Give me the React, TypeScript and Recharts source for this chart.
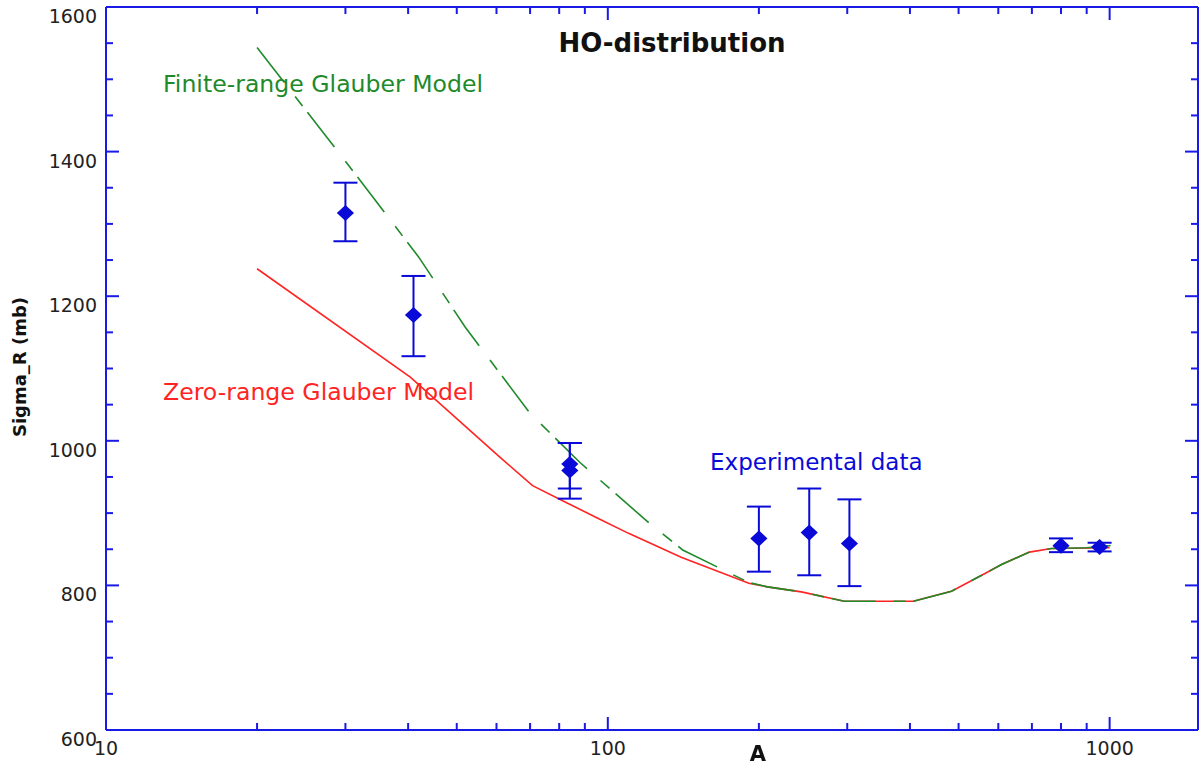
import React from 'react';
import { ComposedChart, Line, Scatter, XAxis, YAxis, ErrorBar } from 'recharts';

// finite-range Glauber model (green dashed)
const FINITE_A = [20, 29, 42, 52, 70, 88, 121, 141, 191, 208, 243, 296, 406, 484, 556, 609, 692, 766, 900, 1000, 1057];
const FINITE_SIGMA = [1544, 1400, 1254, 1157, 1038, 970, 886, 849, 804, 798, 791, 778, 778, 792, 814, 829, 846, 851, 852, 855, 857];

// zero-range Glauber model (red)
const ZERO_A = [20, 40.4, 61, 70.8, 82.4, 95.5, 110, 140, 191, 208, 243, 296, 406, 484, 556, 609, 692, 766, 1000];
const ZERO_SIGMA = [1238, 1088, 977, 938, 915, 893, 872, 839, 803, 798, 791, 778, 778, 792, 814, 829, 846, 851, 852];

// experimental data
const EXP_A = [30, 41, 84, 84, 200, 252, 303, 800, 955];
const EXP_SIGMA = [1315, 1174, 968, 959, 865, 873, 858, 855, 853];
const EXP_ERR_LOW = [39, 57, 34, 39, 46, 59, 59, 9, 6];
const EXP_ERR_HIGH = [42, 54, 29, 38, 44, 61, 61, 10, 6];

const X_TICKS = [10, 20, 30, 40, 50, 60, 70, 80, 90, 100, 200, 300, 400, 500, 600, 700, 800, 900, 1000];
const X_MAJOR = [10, 100, 1000];
const Y_TICKS = [600, 650, 700, 750, 800, 850, 900, 950, 1000, 1050, 1100, 1150, 1200, 1250, 1300, 1350, 1400, 1450, 1500, 1550, 1600];

const finiteData = FINITE_A.map((a, i) => ({ a, sigma: FINITE_SIGMA[i] }));
const zeroData = ZERO_A.map((a, i) => ({ a, sigma: ZERO_SIGMA[i] }));
const expData = EXP_A.map((a, i) => ({ a, sigma: EXP_SIGMA[i], err: [EXP_ERR_LOW[i], EXP_ERR_HIGH[i]] }));

const AXIS = '#1a1ae6';
const GREEN = '#1f8a2a';
const RED = '#ff2424';
const BLUE = '#0a0ad8';
const FONT = '"DejaVu Sans", Verdana, sans-serif';

const isMajorY = (v: number) => v % 200 === 0;

const BottomTick = (props: any) => {
  const { x, y, payload } = props;
  const major = X_MAJOR.includes(payload.value);
  return (
    <g>
      <line x1={x} y1={y} x2={x} y2={y - (major ? 13 : 7)} stroke={AXIS} strokeWidth={2} />
      {major && (
        <text x={x} y={y + 18} textAnchor="middle" dominantBaseline="central" fontFamily={FONT} fontSize={19} fill="#222">
          {payload.value}
        </text>
      )}
    </g>
  );
};

const TopTick = (props: any) => {
  const { x, y, payload } = props;
  const major = X_MAJOR.includes(payload.value);
  return <line x1={x} y1={y} x2={x} y2={y + (major ? 13 : 7)} stroke={AXIS} strokeWidth={2} />;
};

const LeftTick = (props: any) => {
  const { x, y, payload } = props;
  const major = isMajorY(payload.value);
  return (
    <g>
      <line x1={x} y1={y} x2={x + (major ? 13 : 7)} y2={y} stroke={AXIS} strokeWidth={2} />
      {major && (
        <text x={x - 9} y={y + 9} textAnchor="end" dominantBaseline="central" fontFamily={FONT} fontSize={19} fill="#222">
          {payload.value}
        </text>
      )}
    </g>
  );
};

const RightTick = (props: any) => {
  const { x, y, payload } = props;
  const major = isMajorY(payload.value);
  return <line x1={x} y1={y} x2={x - (major ? 13 : 7)} y2={y} stroke={AXIS} strokeWidth={2} />;
};

const Diamond = (props: any) => {
  const { cx, cy } = props;
  return (
    <polygon
      points={`${cx},${cy - 7} ${cx + 7.5},${cy} ${cx},${cy + 7} ${cx - 7.5},${cy}`}
      fill={BLUE}
      stroke={BLUE}
      strokeWidth={1.5}
    />
  );
};

const label = (style: React.CSSProperties): React.CSSProperties => ({
  position: 'absolute',
  whiteSpace: 'nowrap',
  fontFamily: FONT,
  lineHeight: 1,
  ...style,
});

export default function App() {
  return (
    <div style={{ position: 'fixed', left: 0, top: 0, width: 1202, height: 765, background: '#fff' }}>
      <ComposedChart width={1202} height={765} margin={{ top: 0, right: 0, bottom: 0, left: 0 }}>
        <XAxis
          xAxisId="bottom"
          dataKey="a"
          type="number"
          scale="log"
          domain={[10, 1500]}
          allowDataOverflow
          ticks={X_TICKS}
          interval={0}
          tickSize={0}
          tickMargin={0}
          height={35}
          axisLine={{ stroke: AXIS, strokeWidth: 2 }}
          tickLine={false}
          tick={BottomTick}
        />
        <XAxis
          xAxisId="top"
          orientation="top"
          dataKey="a"
          type="number"
          scale="log"
          domain={[10, 1500]}
          allowDataOverflow
          ticks={X_TICKS}
          interval={0}
          tickSize={0}
          tickMargin={0}
          height={7}
          axisLine={{ stroke: AXIS, strokeWidth: 2 }}
          tickLine={false}
          tick={TopTick}
        />
        <YAxis
          yAxisId="left"
          type="number"
          domain={[600, 1600]}
          allowDataOverflow
          ticks={Y_TICKS}
          interval={0}
          tickSize={0}
          tickMargin={0}
          width={106}
          axisLine={{ stroke: AXIS, strokeWidth: 2 }}
          tickLine={false}
          tick={LeftTick}
        />
        <YAxis
          yAxisId="right"
          orientation="right"
          type="number"
          domain={[600, 1600]}
          allowDataOverflow
          ticks={Y_TICKS}
          interval={0}
          tickSize={0}
          tickMargin={0}
          width={4}
          axisLine={{ stroke: AXIS, strokeWidth: 2 }}
          tickLine={false}
          tick={RightTick}
        />
        <Line
          xAxisId="bottom"
          yAxisId="left"
          data={zeroData}
          dataKey="sigma"
          type="linear"
          stroke={RED}
          strokeWidth={1.6}
          dot={false}
          isAnimationActive={false}
        />
        <Line
          xAxisId="bottom"
          yAxisId="left"
          data={finiteData}
          dataKey="sigma"
          type="linear"
          stroke={GREEN}
          strokeWidth={1.6}
          strokeDasharray="44 18 12 8"
          dot={false}
          isAnimationActive={false}
        />
        <Scatter
          xAxisId="bottom"
          yAxisId="left"
          data={expData}
          dataKey="sigma"
          shape={Diamond}
          isAnimationActive={false}
        >
          <ErrorBar dataKey="err" direction="y" width={12} stroke={BLUE} strokeWidth={2} />
        </Scatter>
      </ComposedChart>

      <div style={label({ left: 672, top: 43, transform: 'translate(-50%, -50%)', fontSize: 26, fontWeight: 'bold', color: '#111' })}>
        HO-distribution
      </div>
      <div style={label({ left: 163, top: 85, transform: 'translateY(-50%)', fontSize: 23.6, color: GREEN })}>
        Finite-range Glauber Model
      </div>
      <div style={label({ left: 163, top: 393, transform: 'translateY(-50%)', fontSize: 23.6, color: RED })}>
        Zero-range Glauber Model
      </div>
      <div style={label({ left: 710, top: 462, transform: 'translateY(-50%)', fontSize: 23, color: BLUE })}>
        Experimental data
      </div>
      <div style={label({ left: 20, top: 367, transform: 'translate(-50%, -50%) rotate(-90deg)', fontSize: 18, fontWeight: 'bold', color: '#111' })}>
        Sigma_R (mb)
      </div>
      <div style={label({ left: 758, top: 754, transform: 'translate(-50%, -50%)', fontSize: 21, fontWeight: 'bold', color: '#111' })}>
        A
      </div>
    </div>
  );
}
